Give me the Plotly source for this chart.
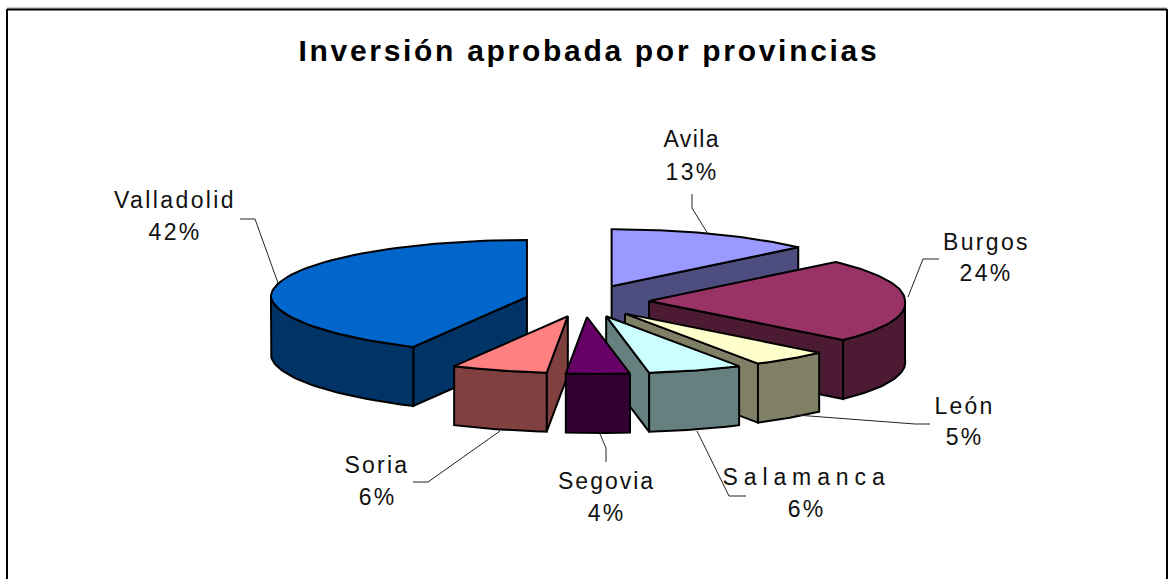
import json
import numpy as np
import plotly.graph_objects as go

# Data
provinces = ["Avila", "Burgos", "León", "Salamanca", "Segovia", "Soria", "Valladolid"]
shares = [13, 24, 5, 6, 4, 6, 42]
title_text = "Inversión aprobada por provincias"

# Styles
top_colors = ["#9999FF", "#993366", "#FFFFCC", "#CCFFFF", "#660066", "#FF8080", "#0066CC"]
side_colors = ["#4D4D80", "#4D1A33", "#808066", "#668080", "#330033", "#804040", "#003366"]
paint_order = [0, 6, 1, 2, 5, 3, 4]
label_spacing = {"Avila": 1.4, "Burgos": 2.3, "León": 2.2, "Salamanca": 5.9,
                 "Segovia": 2.0, "Soria": 2.2, "Valladolid": 2.4, title_text: 2.7}

# Projection of the pie onto the page
CX, CY, RX, RY, DEPTH = 587.0, 301.0, 256.0, 57.0, 59.0
EXPLODE_X, EXPLODE_Y = 62.0, 16.0
FRONT_SHEAR = 11.0

# Label placement: x, y of name, y of percent, leader path
label_layout = {
    "Avila": (692, 139, 172, [(692, 194), (692, 208), (708, 234)]),
    "Burgos": (986, 242, 273, [(939, 259), (923, 259), (908, 297)]),
    "León": (964, 406, 437, [(930, 424), (915, 424), (796, 415)]),
    "Salamanca": (806, 477, 509, [(746, 496), (729, 496), (697, 431)]),
    "Segovia": (606, 481, 513, [(606, 462), (606, 448), (600, 434)]),
    "Soria": (377, 465, 497, [(413, 482), (428, 482), (500, 431)]),
    "Valladolid": (175, 200, 232, [(240, 219), (255, 219), (278, 283)]),
}

total = sum(shares)
edges = np.concatenate([[0], np.cumsum(shares)]) * 360.0 / total


def project(mid, a):
    """Page position of the rim at angle a (deg, clockwise from back) of a slice exploded along mid."""
    m, t = np.radians(mid), np.radians(a)
    apex_x = CX + EXPLODE_X * np.sin(m)
    apex_y = CY - EXPLODE_Y * np.cos(m)
    shear = FRONT_SHEAR * np.clip(-np.cos(t), 0, None)
    return apex_x + RX * np.sin(t) + shear, apex_y - RY * np.cos(t)


def apex_of(mid):
    m = np.radians(mid)
    return CX + EXPLODE_X * np.sin(m), CY - EXPLODE_Y * np.cos(m)


fig = go.Figure()


def poly(xs, ys, fill):
    fig.add_trace(go.Scatter(
        x=list(xs) + [xs[0]], y=list(ys) + [ys[0]], mode="lines", fill="toself",
        fillcolor=fill, line=dict(color="black", width=2), hoverinfo="skip", showlegend=False,
    ))


for i in paint_order:
    a0, a1 = edges[i], edges[i + 1]
    mid = (a0 + a1) / 2
    apex = apex_of(mid)
    # cut faces turned towards the viewer
    for a, visible in ((a0, np.sin(np.radians(a0)) < 0), (a1, np.sin(np.radians(a1)) > 0)):
        if visible:
            p = project(mid, a)
            poly([apex[0], p[0], p[0], apex[0]],
                 [apex[1], p[1], p[1] + DEPTH, apex[1] + DEPTH], side_colors[i])
    # outer wall, front half only
    w0, w1 = max(a0, 90), min(a1, 270)
    if w1 > w0:
        angs = np.linspace(w0, w1, 40)
        px, py = project(mid, angs)
        poly(np.concatenate([px, px[::-1]]), np.concatenate([py, py[::-1] + DEPTH]), side_colors[i])
    # top surface
    angs = np.linspace(a0, a1, 80)
    px, py = project(mid, angs)
    poly(np.concatenate([[apex[0]], px]), np.concatenate([[apex[1]], py]), top_colors[i])

annotations = [dict(x=589, y=50, text=title_text, showarrow=False, xanchor="center", yanchor="middle",
                    font=dict(family="Liberation Sans", size=30, color="black", weight="bold"))]

for name, share in zip(provinces, shares):
    lx, ny, py_, path = label_layout[name]
    fig.add_trace(go.Scatter(x=[p[0] for p in path], y=[p[1] for p in path], mode="lines",
                             line=dict(color="#222222", width=1), hoverinfo="skip", showlegend=False))
    for txt, yy in ((name, ny), (f"{share}%", py_)):
        annotations.append(dict(x=lx, y=yy, text=txt, showarrow=False, xanchor="center", yanchor="middle",
                                font=dict(family="Liberation Sans", size=23, color="#111111")))

fig.update_layout(
    width=1173, height=579, margin=dict(l=0, r=0, t=0, b=0),
    paper_bgcolor="white", plot_bgcolor="white", showlegend=False,
    xaxis=dict(range=[0, 1173], visible=False, fixedrange=True),
    yaxis=dict(range=[579, 0], visible=False, fixedrange=True),
    annotations=annotations,
    shapes=[
        dict(type="line", x0=7, x1=1167, y0=8, y1=8, line=dict(color="#999999", width=1)),
        dict(type="line", x0=7, x1=7, y0=9, y1=579, line=dict(color="black", width=2)),
        dict(type="line", x0=7, x1=1167, y0=9.5, y1=9.5, line=dict(color="black", width=2)),
        dict(type="line", x0=1167, x1=1167, y0=9, y1=579, line=dict(color="black", width=2)),
    ],
)

letter_js = """
document.documentElement.style.overflow = 'hidden';
document.body.style.margin = '0';
var spacing = %s;
document.querySelectorAll('.annotation-text').forEach(function (t) {
  var s = spacing[t.textContent];
  t.style.letterSpacing = (s === undefined ? 2.3 : s) + 'px';
});
""" % json.dumps(label_spacing, ensure_ascii=False)
fig.write_html("out.html", post_script=letter_js,
               config={"displayModeBar": False, "responsive": False})
